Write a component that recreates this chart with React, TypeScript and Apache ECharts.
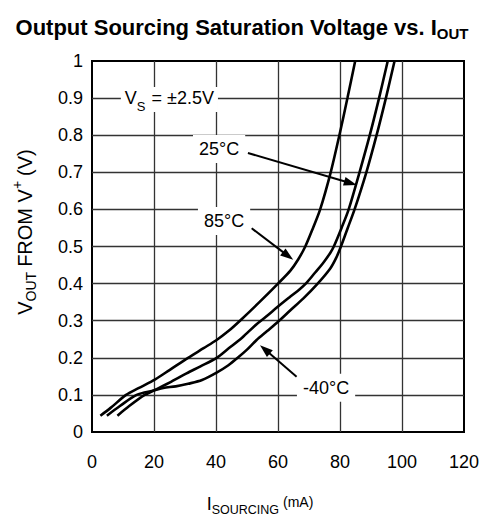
import React, { useEffect, useRef } from "react";
import * as echarts from "echarts";

const W = 487;
const H = 520;
const FONT = '"Liberation Sans", Arial, Helvetica, sans-serif';

// ---- axes ----
const xTickValues = [0, 20, 40, 60, 80, 100, 120];
const yTickLabels = ["0", "0.1", "0.2", "0.3", "0.4", "0.5", "0.6", "0.7", "0.8", "0.9", "1"];

// ---- data: [I_SOURCING (mA), V_OUT from V+ (V)] ----
const curve85C: [number, number][] = [
  [2.7, 0.044], [6, 0.065], [11, 0.1], [15, 0.118], [20.4, 0.142], [25, 0.167],
  [31, 0.2], [36, 0.226], [40.2, 0.248], [44, 0.272], [48, 0.302], [54, 0.35],
  [60, 0.4], [64, 0.435], [66.5, 0.465], [68.8, 0.5], [71.3, 0.55], [73.6, 0.6],
  [77, 0.7], [79.8, 0.8], [82.4, 0.9], [84.9, 1.0],
];
const curve25C: [number, number][] = [
  [8.2, 0.044], [12, 0.07], [17, 0.1], [20, 0.112], [25, 0.133], [30.5, 0.158],
  [35, 0.177], [40.2, 0.2], [44, 0.225], [48.5, 0.255], [53, 0.29], [56, 0.31],
  [60, 0.338], [64, 0.365], [67, 0.385], [69.2, 0.402], [72, 0.43], [74.5, 0.455],
  [76.8, 0.482], [78, 0.5], [80.5, 0.55], [82.8, 0.6], [86.3, 0.7],
  [89.6, 0.8], [92.6, 0.9], [95.4, 1.0],
];
const curveMinus40C: [number, number][] = [
  [4.8, 0.044], [9, 0.07], [14.4, 0.1], [20, 0.112], [23, 0.119], [27, 0.123],
  [31, 0.13], [35.5, 0.14], [40.2, 0.16], [44, 0.18], [47, 0.2], [50, 0.222],
  [53.1, 0.248], [56.5, 0.272], [60, 0.297], [64, 0.328], [68.2, 0.36],
  [72.5, 0.397], [76.8, 0.44], [78.8, 0.47], [80.3, 0.5], [82.5, 0.55],
  [84.7, 0.6], [88.5, 0.7], [91.8, 0.8], [94.8, 0.9], [97.6, 1.0],
];

// ---- annotations (data coordinates) ----
const tempNotes = [
  { text: "25°C", at: [41, 0.763], from: [50.3, 0.752], to: [85.4, 0.666] },
  { text: "85°C", at: [42.6, 0.569], from: [51.5, 0.549], to: [64.9, 0.464] },
  { text: "-40°C", at: [75.5, 0.119], from: [66, 0.149], to: [54.2, 0.234] },
];
const supplyNoteAt = [10.6, 0.9];

type Seg = { text: string; size: number; dy?: number; bold?: boolean; gap?: number };

let measureCtx: CanvasRenderingContext2D | null = null;
function measure(text: string, size: number, bold?: boolean) {
  if (!measureCtx) measureCtx = document.createElement("canvas").getContext("2d");
  if (!measureCtx) return text.length * size * 0.55;
  measureCtx.font = `${bold ? "bold " : ""}${size}px ${FONT}`;
  return measureCtx.measureText(text).width;
}

function row(segs: Seg[], center: boolean) {
  const widths = segs.map((s) => measure(s.text, s.size, s.bold) + (s.gap || 0));
  const total = widths.reduce((a, b) => a + b, 0);
  let x = center ? -total / 2 : 0;
  const start = x;
  const children = segs.map((s, i) => {
    const el = {
      type: "text",
      x: x + (s.gap || 0),
      y: s.dy || 0,
      silent: true,
      style: {
        text: s.text,
        fontSize: s.size,
        fontWeight: s.bold ? "bold" : "normal",
        fontFamily: FONT,
        fill: "#000",
        align: "left",
        verticalAlign: "middle",
        textAlign: "left",
        textVerticalAlign: "middle",
      },
    };
    x += widths[i];
    return el;
  });
  return { children, total, start };
}

function arrow(a: number[], b: number[]) {
  const dx = b[0] - a[0];
  const dy = b[1] - a[1];
  const len = Math.hypot(dx, dy);
  const ux = dx / len;
  const uy = dy / len;
  const L = 13;
  const w = 4.5;
  const bx = b[0] - ux * L;
  const by = b[1] - uy * L;
  return [
    {
      type: "line",
      silent: true,
      z: 20,
      shape: { x1: a[0], y1: a[1], x2: b[0] - ux * L * 0.6, y2: b[1] - uy * L * 0.6 },
      style: { stroke: "#000", lineWidth: 2 },
    },
    {
      type: "polygon",
      silent: true,
      z: 20,
      shape: {
        points: [
          [b[0], b[1]],
          [bx - uy * w, by + ux * w],
          [bx + uy * w, by - ux * w],
        ],
      },
      style: { fill: "#000" },
    },
  ];
}

export default function App() {
  const ref = useRef<HTMLDivElement>(null);
  useEffect(() => {
    if (!ref.current) return;
    const chart = echarts.init(ref.current, null, { renderer: "svg", width: W, height: H });
    const lineSeries = (name: string, data: [number, number][]) => ({
      name,
      type: "line",
      data,
      smooth: 0.3,
      showSymbol: false,
      symbol: "none",
      clip: true,
      lineStyle: { color: "#000", width: 2.6 },
      z: 5,
    });
    const splitLine = {
      show: true,
      showMinLine: false,
      showMaxLine: false,
      lineStyle: { color: "#333", width: 1.3 },
    };
    chart.setOption({
      animation: false,
      backgroundColor: "#fff",
      grid: {
        left: 92,
        top: 61,
        width: 372,
        height: 371,
        show: true,
        borderColor: "#000",
        borderWidth: 2,
        backgroundColor: "transparent",
      },
      xAxis: {
        type: "value",
        min: xTickValues[0],
        max: xTickValues[xTickValues.length - 1],
        interval: xTickValues[1] - xTickValues[0],
        axisLine: { show: false },
        axisTick: { show: false },
        axisLabel: { fontSize: 18, color: "#000", fontFamily: FONT, margin: 21 },
        splitLine,
      },
      yAxis: {
        type: "value",
        min: 0,
        max: 1,
        interval: 0.1,
        axisLine: { show: false },
        axisTick: { show: false },
        axisLabel: {
          fontSize: 18,
          color: "#000",
          fontFamily: FONT,
          margin: 9,
          formatter: (v: number) => yTickLabels[Math.round(v * 10)] ?? String(v),
        },
        splitLine,
      },
      series: [
        lineSeries("85°C", curve85C),
        lineSeries("25°C", curve25C),
        lineSeries("-40°C", curveMinus40C),
      ],
    });

    const px = (p: number[]) => chart.convertToPixel({ gridIndex: 0 }, p) as number[];
    const graphics: any[] = [];

    // title
    const title = row(
      [
        { text: "Output Sourcing Saturation Voltage vs. I", size: 22, bold: true },
        { text: "OUT", size: 15, bold: true, dy: 6 },
      ],
      true
    );
    graphics.push({ type: "group", x: 242, y: 27, children: title.children });

    // x axis name
    const xName = row(
      [
        { text: "I", size: 18 },
        { text: "SOURCING", size: 12.5, dy: 6 },
        { text: "(mA)", size: 14, dy: -2, gap: 4 },
      ],
      true
    );
    graphics.push({ type: "group", x: 260, y: 504, children: xName.children });

    // y axis name (rotated)
    const yName = row(
      [
        { text: "V", size: 20 },
        { text: "OUT", size: 14, dy: 6 },
        { text: "FROM V", size: 20, gap: 5 },
        { text: "+", size: 14, dy: -8 },
        { text: "(V)", size: 20, gap: 5 },
      ],
      true
    );
    graphics.push({ type: "group", x: 25, y: 232, rotation: Math.PI / 2, children: yName.children });

    // supply note
    const sp = px(supplyNoteAt);
    const sup = row(
      [
        { text: "V", size: 18 },
        { text: "S", size: 13, dy: 8 },
        { text: "= ±2.5V", size: 18, gap: 6 },
      ],
      false
    );
    graphics.push({
      type: "group",
      x: sp[0],
      y: sp[1],
      z: 10,
      children: [
        {
          type: "rect",
          silent: true,
          shape: { x: -4, y: -11, width: sup.total + 8, height: 25 },
          style: { fill: "#fff" },
        },
        ...sup.children,
      ],
    });

    // temperature labels + arrows
    tempNotes.forEach((n) => {
      const p = px(n.at);
      graphics.push({
        type: "text",
        x: p[0],
        y: p[1],
        z: 10,
        silent: true,
        style: {
          text: n.text,
          fontSize: 18,
          fontFamily: FONT,
          fill: "#000",
          align: "center",
          verticalAlign: "middle",
          textAlign: "center",
          textVerticalAlign: "middle",
          backgroundColor: "#fff",
          padding: [5, 6],
        },
      });
      graphics.push(...arrow(px(n.from), px(n.to)));
    });

    chart.setOption({ graphic: graphics });
    return () => chart.dispose();
  }, []);
  return (
    <div
      ref={ref}
      style={{ position: "fixed", left: 0, top: 0, width: W, height: H, background: "#fff" }}
    />
  );
}
